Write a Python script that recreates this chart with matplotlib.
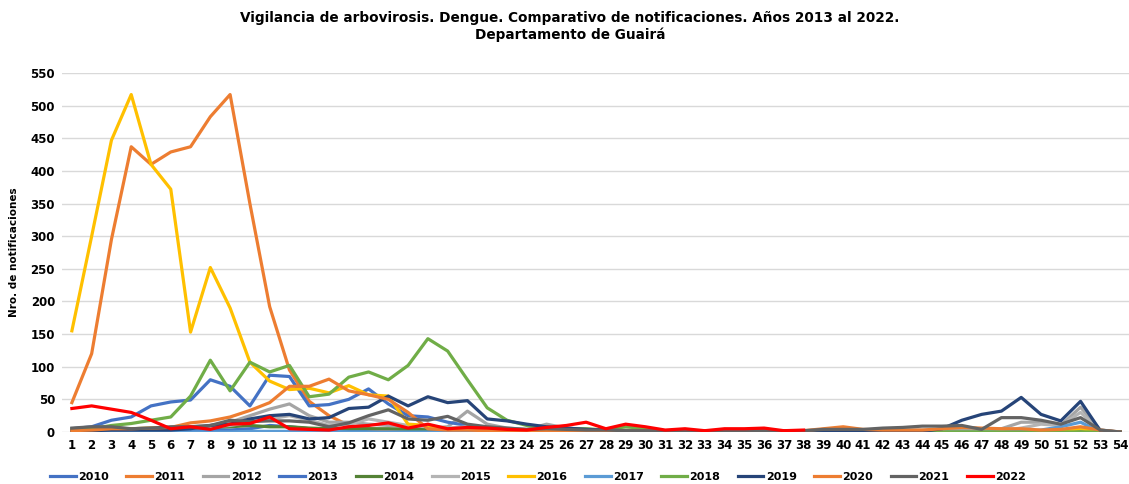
import numpy as np
import matplotlib
matplotlib.use("Agg")
import matplotlib.pyplot as plt

weeks = list(range(1, 55))

# weekly notifications per year
y2010 = [2, 2, 2, 2, 2, 2, 3, 4, 3, 5, 10, 8, 5, 5, 3, 3, 3, 2, 2, 2, 1, 1, 1, 1, 1, 1, 0,
         0, 0, 0, 0, 0, 0, 0, 0, 0, 0, 0, 0, 0, 0, 0, 0, 0, 0, 0, 0, 0, 0, 0, 0, 0, 0, 0]
y2011 = [45, 120, 295, 437, 410, 429, 437, 483, 517, 350, 192, 95, 47, 25, 10, 5, 3, 2, 1, 1, 1, 0, 0,
         0, 0, 0, 0, 0, 0, 0, 0, 0, 0, 0, 0, 0, 0, 0, 0, 0, 0, 0, 0, 0, 0, 0, 0, 0, 0, 0, 0, 0, 0, 0]
y2012 = [4, 5, 6, 5, 5, 6, 8, 10, 15, 25, 35, 43, 25, 15, 15, 12, 10, 8, 6, 8, 32, 12, 6, 4, 12, 6, 4,
         3, 3, 2, 2, 1, 1, 1, 1, 1, 1, 1, 2, 2, 2, 2, 3, 3, 3, 3, 3, 5, 15, 15, 10, 38, 3, 0]
y2013 = [5, 8, 18, 23, 40, 46, 49, 80, 70, 40, 87, 85, 40, 42, 50, 66, 43, 25, 23, 15, 10, 5, 3, 2, 1, 1, 0,
         0, 0, 0, 0, 0, 0, 0, 0, 0, 0, 0, 0, 0, 0, 0, 0, 0, 0, 0, 0, 0, 0, 0, 0, 0, 0, 0]
y2014 = [4, 5, 6, 5, 6, 6, 6, 8, 8, 10, 8, 8, 6, 5, 5, 5, 5, 4, 4, 3, 3, 3, 2, 2, 2, 1, 1,
         1, 1, 0, 0, 0, 0, 0, 0, 0, 0, 0, 0, 0, 0, 0, 0, 0, 0, 0, 0, 0, 0, 0, 0, 0, 0, 0]
y2015 = [3, 3, 4, 4, 5, 5, 6, 8, 10, 15, 20, 25, 18, 10, 12, 20, 15, 10, 8, 6, 8, 5, 4, 3, 3, 2, 2,
         1, 1, 1, 1, 1, 0, 0, 0, 0, 0, 0, 0, 0, 0, 0, 0, 0, 0, 0, 0, 2, 6, 12, 10, 30, 2, 0]
y2016 = [155, 300, 447, 517, 410, 372, 153, 252, 190, 107, 78, 65, 67, 60, 71, 57, 55, 12, 10, 5, 4, 3, 2,
         1, 1, 1, 0, 0, 0, 0, 0, 0, 0, 0, 0, 0, 0, 0, 0, 0, 0, 0, 0, 0, 0, 0, 0, 0, 0, 1, 2, 5, 1, 0]
y2017 = [0, 0, 0, 0, 0, 0, 0, 0, 0, 1, 1, 1, 1, 1, 0, 0, 0, 0, 0, 0, 0, 0, 0, 0, 0, 0, 0,
         0, 0, 0, 0, 0, 0, 0, 0, 0, 0, 0, 0, 0, 0, 0, 0, 0, 0, 0, 0, 0, 1, 3, 8, 15, 0, 0]
y2018 = [3, 5, 10, 13, 18, 23, 55, 110, 63, 107, 92, 102, 54, 58, 84, 92, 80, 102, 143, 124, 80, 37, 18,
         10, 7, 5, 5, 3, 8, 5, 2, 1, 1, 0, 0, 0, 0, 0, 0, 0, 0, 0, 0, 0, 0, 0, 0, 0, 0, 0, 0, 0, 0, 0]
y2019 = [2, 2, 3, 3, 3, 3, 5, 10, 12, 20, 25, 27, 20, 22, 36, 38, 55, 40, 54, 45, 48, 20, 17, 12, 8, 6, 4,
         3, 2, 2, 1, 1, 1, 1, 1, 1, 1, 1, 2, 2, 1, 1, 1, 1, 5, 18, 27, 32, 53, 27, 17, 47, 2, 0]
y2020 = [2, 3, 5, 5, 6, 7, 14, 17, 23, 33, 45, 70, 70, 81, 63, 57, 50, 30, 5, 3, 3, 2, 2, 2, 2, 2, 2,
         2, 2, 2, 2, 2, 2, 2, 2, 2, 2, 2, 5, 8, 4, 3, 3, 3, 5, 7, 6, 5, 5, 3, 4, 8, 3, 0]
y2021 = [6, 8, 8, 5, 6, 8, 8, 10, 18, 16, 17, 17, 15, 8, 14, 25, 34, 20, 18, 24, 12, 8, 6, 4, 5, 4, 3,
         3, 2, 2, 2, 2, 2, 2, 2, 2, 2, 2, 4, 4, 4, 6, 7, 9, 9, 10, 4, 22, 22, 18, 12, 22, 3, 0]
y2022 = [36, 40, 35, 30, 18, 5, 8, 4, 12, 13, 23, 5, 4, 3, 8, 10, 14, 6, 12, 5, 7, 6, 4, 3, 7, 10, 15,
         5, 12, 8, 3, 5, 2, 5, 5, 6, 2, 3]

years = ["2010", "2011", "2012", "2013", "2014", "2015", "2016",
         "2017", "2018", "2019", "2020", "2021", "2022"]
series = [y2010, y2011, y2012, y2013, y2014, y2015, y2016,
          y2017, y2018, y2019, y2020, y2021, y2022]
colors = ["#4472C4", "#ED7D31", "#A5A5A5", "#4472C4", "#548235", "#B4B4B4", "#FFC000",
          "#5B9BD5", "#70AD47", "#264478", "#ED7D31", "#636363", "#FF0000"]

fig = plt.figure(figsize=(11.29, 4.84), dpi=100)
ax = fig.add_axes([62 / 1129, 52 / 484, 1 - 62 / 1129, 359 / 484])

for yr, vals, c in zip(years, series, colors):
    ax.plot(weeks[:len(vals)], vals, color=c, lw=2.3, label=yr, solid_joinstyle="round")

ax.set_xlim(0.5, 54.45)
ax.set_ylim(0, 550)
ax.set_yticks(np.arange(0, 551, 50))
ax.set_xticks(weeks)
ax.tick_params(length=0, labelsize=8.5)
ax.tick_params(axis="y", pad=5)
ax.tick_params(axis="x", pad=5)
for lab in ax.get_xticklabels() + ax.get_yticklabels():
    lab.set_fontweight("bold")
ax.grid(axis="y", color="#D9D9D9", lw=1)
ax.set_axisbelow(True)
for s in ax.spines.values():
    s.set_visible(False)
ax.set_ylabel("Nro. de notificaciones", fontsize=7.5, fontweight="bold", labelpad=8)

fig.text(0.505, 0.945, "Vigilancia de arbovirosis. Dengue. Comparativo de notificaciones. Años 2013 al 2022.\n"
         "Departamento de Guairá", ha="center", va="center", fontsize=9.8, fontweight="bold",
         linespacing=1.25)

fig.legend(loc="center", bbox_to_anchor=(538 / 1129, 1 - 477 / 484), ncol=13, frameon=False,
           prop={"size": 8, "weight": "bold"}, handlelength=2.3, handletextpad=0.2,
           columnspacing=1.6)

fig.savefig("out.png", dpi=100)
